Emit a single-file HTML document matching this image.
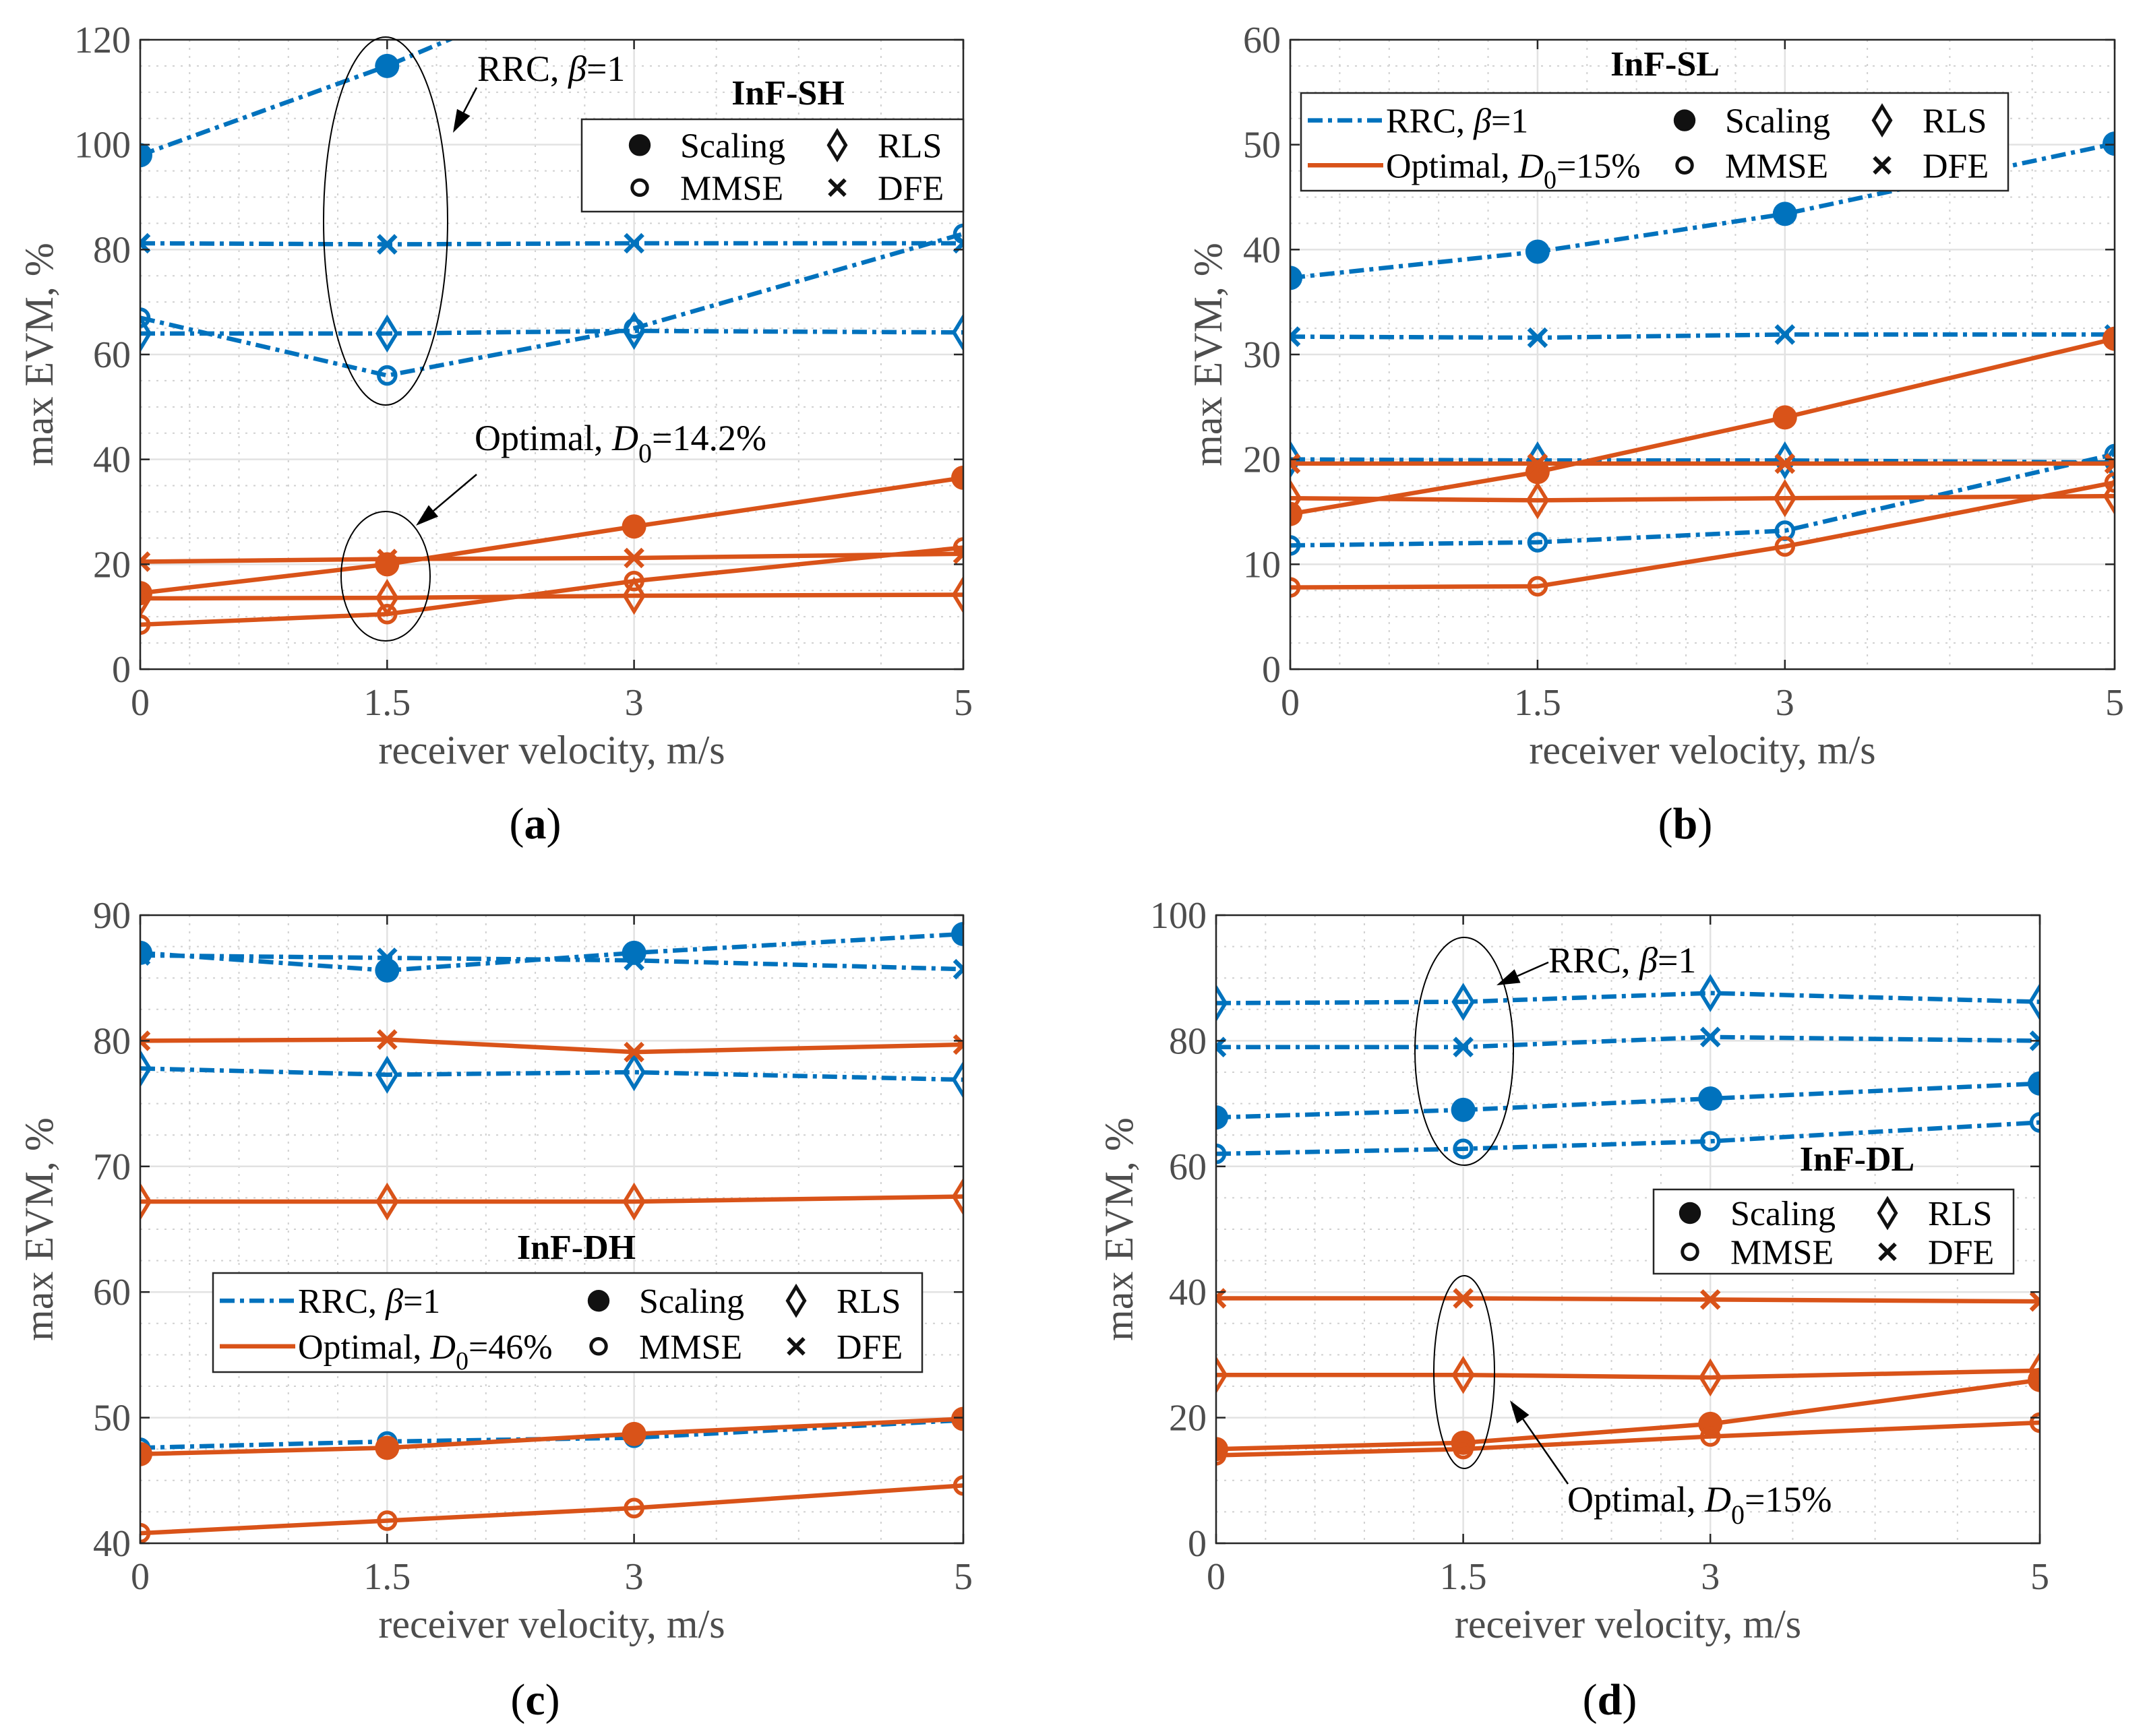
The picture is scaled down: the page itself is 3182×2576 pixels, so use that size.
<!DOCTYPE html>
<html><head><meta charset="utf-8"><style>
html,body{margin:0;padding:0;background:#fff;}
svg{display:block;}
svg text{font-family:"Liberation Serif",serif;}
</style></head><body>
<svg id="fig" width="3182" height="2576" viewBox="0 0 3182 2576" xmlns="http://www.w3.org/2000/svg"></svg>
<script>
// ---- shared x data ----
const velocities = [0, 1.5, 3, 5];
const xTicks = [0, 1.5, 3, 5];
const xTickLabels = ["0", "1.5", "3", "5"];
const xMinor = [0.3,0.6,0.9,1.2,1.8,2.1,2.4,2.7,3.5,4,4.5];

// ---- panel (a) InF-SH ----
const aTicks = [0,20,40,60,80,100,120];
const aRrcScaling = [98, 115, 135, 155];
const aRrcMmse = [67, 56, 65, 83];
const aRrcRls = [64, 64, 64.5, 64.2];
const aRrcDfe = [81.2, 81, 81.2, 81.2];
const aOptScaling = [14.5, 20, 27.2, 36.5];
const aOptMmse = [8.5, 10.5, 16.8, 23.2];
const aOptRls = [13.5, 13.6, 14, 14.2];
const aOptDfe = [20.5, 21, 21.2, 22];

// ---- panel (b) InF-SL ----
const bTicks = [0,10,20,30,40,50,60];
const bRrcScaling = [37.3, 39.8, 43.4, 50.1];
const bRrcMmse = [11.8, 12.1, 13.2, 20.5];
const bRrcRls = [20, 19.9, 19.9, 19.7];
const bRrcDfe = [31.7, 31.6, 31.9, 31.9];
const bOptScaling = [14.8, 18.8, 24, 31.5];
const bOptMmse = [7.8, 7.9, 11.7, 17.8];
const bOptRls = [16.3, 16.1, 16.3, 16.5];
const bOptDfe = [19.6, 19.6, 19.6, 19.6];

// ---- panel (c) InF-DH ----
const cTicks = [40,50,60,70,80,90];
const cRrcScaling = [87, 85.6, 87, 88.5];
const cRrcMmse = [47.6, 48.1, 48.4, 49.8];
const cRrcRls = [77.8, 77.3, 77.5, 76.9];
const cRrcDfe = [86.8, 86.6, 86.4, 85.7];
const cOptScaling = [47.1, 47.6, 48.7, 49.9];
const cOptMmse = [40.8, 41.8, 42.8, 44.6];
const cOptRls = [67.2, 67.2, 67.2, 67.6];
const cOptDfe = [80, 80.1, 79.1, 79.7];

// ---- panel (d) InF-DL ----
const dTicks = [0,20,40,60,80,100];
const dRrcScaling = [67.8, 69, 70.8, 73.2];
const dRrcMmse = [62, 62.8, 64, 67];
const dRrcRls = [86, 86.2, 87.6, 86.2];
const dRrcDfe = [79, 79, 80.6, 80];
const dOptScaling = [15, 16, 19, 26];
const dOptMmse = [14, 15, 17, 19.2];
const dOptRls = [26.8, 26.8, 26.4, 27.5];
const dOptDfe = [39, 39, 38.8, 38.5];

const NS = "http://www.w3.org/2000/svg";
const svg = document.getElementById("fig");
const BLUE = "#0072BD", RED = "#D95319";
const SERIF = "Liberation Serif, serif";

function mk(tag, attrs, parent) {
  const el = document.createElementNS(NS, tag);
  for (const k in attrs) el.setAttribute(k, attrs[k]);
  if (tag === "text" && !attrs["font-family"]) el.setAttribute("font-family", SERIF);
  (parent || svg).appendChild(el);
  return el;
}

function marker(g, type, cx, cy, color, scale) {
  const s = scale || 1;
  let el;
  if (type === "scaling") {
    el = mk("circle", {cx: cx, cy: cy, r: 18*s, fill: color}, g);
  } else if (type === "mmse") {
    el = mk("circle", {cx: cx, cy: cy, r: 12.5*s, fill: "none", stroke: color, "stroke-width": 5.5*s}, g);
  } else if (type === "rls") {
    const w = 14*s, h = 23*s;
    el = mk("polygon", {points: `${cx},${cy-h} ${cx+w},${cy} ${cx},${cy+h} ${cx-w},${cy}`, fill: "none", stroke: color, "stroke-width": 5.5*s}, g);
  } else {
    const d = 13*s;
    el = mk("path", {d: `M${cx-d},${cy-d}L${cx+d},${cy+d}M${cx-d},${cy+d}L${cx+d},${cy-d}`, stroke: color, "stroke-width": 6.5*s, fill: "none"}, g);
  }
  return el;
}

function panel(id, box, yMin, yMax, yTicks, series, ylabX) {
  const g = mk("g", {});
  
  
  const L = box[0], R = box[1], T = box[2], B = box[3];
  const sx = v => L + (v - 0) / 5 * (R - L);
  const sy = v => B - (v - yMin) / (yMax - yMin) * (B - T);
  const step = yTicks[1] - yTicks[0];
  for (let v = yMin; v < yMax; v += step/4) {
    if (Math.abs((v - yMin) % step) < 1e-6) continue;
    const ln = mk("line", {x1: L, x2: R, y1: sy(v), y2: sy(v), stroke: "#d0d0d0", "stroke-width": 2, "stroke-dasharray": "3,9"}, g);
    
    
  }
  xMinor.forEach(v => {
    const ln = mk("line", {x1: sx(v), x2: sx(v), y1: T, y2: B, stroke: "#d0d0d0", "stroke-width": 2, "stroke-dasharray": "3,9"}, g);
    
    
  });
  yTicks.forEach(v => {
    const ln = mk("line", {x1: L, x2: R, y1: sy(v), y2: sy(v), stroke: "#e2e2e2", "stroke-width": 2.5}, g);
    
    
    const t = mk("text", {x: L - 14, y: sy(v) + 19, "text-anchor": "end", "font-size": 56, fill: "#4d4d4d"}, g);
    t.textContent = String(v);
    
    
  });
  xTicks.forEach((v, i) => {
    const ln = mk("line", {x1: sx(v), x2: sx(v), y1: T, y2: B, stroke: "#e2e2e2", "stroke-width": 2.5}, g);
    
    
    const t = mk("text", {x: sx(v), y: B + 68, "text-anchor": "middle", "font-size": 56, fill: "#4d4d4d"}, g);
    t.textContent = xTickLabels[i];
    
    
  });
  const cp = mk("clipPath", {id: "clip" + id}, g);
  mk("rect", {x: L, y: T, width: R - L, height: B - T}, cp);
  const dg = mk("g", {"clip-path": `url(#clip${id})`}, g);
  
  
  series.forEach(s => {
    const pts = s.vals.map((v, i) => sx(velocities[i]) + "," + sy(v)).join(" ");
    const pl = mk("polyline", {points: pts, fill: "none", stroke: s.color, "stroke-width": 6.5,
      "stroke-dasharray": s.color === BLUE ? "22,8,6,8" : "none"}, dg);
    
    
    s.vals.forEach((v, i) => {
      const m = marker(dg, s.type, sx(velocities[i]), sy(v), s.color, 1);
      
      
    });
  });
  const ax = mk("rect", {x: L, y: T, width: R - L, height: B - T, fill: "none", stroke: "#262626", "stroke-width": 2.5}, g);
  
  
  yTicks.forEach(v => {
    mk("line", {x1: L, x2: L + 14, y1: sy(v), y2: sy(v), stroke: "#262626", "stroke-width": 2.5}, g);
    mk("line", {x1: R, x2: R - 14, y1: sy(v), y2: sy(v), stroke: "#262626", "stroke-width": 2.5}, g);
  });
  xTicks.forEach(v => {
    mk("line", {x1: sx(v), x2: sx(v), y1: B, y2: B - 14, stroke: "#262626", "stroke-width": 2.5}, g);
    mk("line", {x1: sx(v), x2: sx(v), y1: T, y2: T + 14, stroke: "#262626", "stroke-width": 2.5}, g);
  });
  const xl = mk("text", {x: (L + R) / 2, y: B + 140, "text-anchor": "middle", "font-size": 60, fill: "#4d4d4d"}, g);
  xl.textContent = "receiver velocity, m/s";
  
  
  const yc = (T + B) / 2;
  const yl = mk("text", {x: ylabX, y: yc, "text-anchor": "middle", "font-size": 60, fill: "#4d4d4d", transform: `rotate(-90 ${ylabX} ${yc})`}, g);
  yl.textContent = "max EVM, %";
  
  
  return g;
}

function mkSeries(p, rs, rm, rr, rd, os, om, orr, od) {
  return [
    {vals: rs, type: "scaling", color: BLUE, name: p + "-rrc-scaling"},
    {vals: rm, type: "mmse", color: BLUE, name: p + "-rrc-mmse"},
    {vals: rr, type: "rls", color: BLUE, name: p + "-rrc-rls"},
    {vals: rd, type: "dfe", color: BLUE, name: p + "-rrc-dfe"},
    {vals: os, type: "scaling", color: RED, name: p + "-optimal-scaling"},
    {vals: om, type: "mmse", color: RED, name: p + "-optimal-mmse"},
    {vals: orr, type: "rls", color: RED, name: p + "-optimal-rls"},
    {vals: od, type: "dfe", color: RED, name: p + "-optimal-dfe"}
  ];
}

panel("a", [208, 1429, 59, 993], 0, 120, aTicks, mkSeries("a", aRrcScaling, aRrcMmse, aRrcRls, aRrcDfe, aOptScaling, aOptMmse, aOptRls, aOptDfe), 78);
panel("b", [1914, 3137, 59, 993], 0, 60, bTicks, mkSeries("b", bRrcScaling, bRrcMmse, bRrcRls, bRrcDfe, bOptScaling, bOptMmse, bOptRls, bOptDfe), 1812);
panel("c", [208, 1429, 1358, 2290], 40, 90, cTicks, mkSeries("c", cRrcScaling, cRrcMmse, cRrcRls, cRrcDfe, cOptScaling, cOptMmse, cOptRls, cOptDfe), 78);
panel("d", [1804, 3026, 1358, 2290], 0, 100, dTicks, mkSeries("d", dRrcScaling, dRrcMmse, dRrcRls, dRrcDfe, dOptScaling, dOptMmse, dOptRls, dOptDfe), 1680);

// ---- legends ----
function legend(name, x, y, w, h, withLines, title, tx, ty, d0) {
  const g = mk("g", {});
  
  
  const r = mk("rect", {x: x, y: y, width: w, height: h, fill: "#fff", stroke: "#262626", "stroke-width": 2.5}, g);
  
  
  const tt = mk("text", {x: tx, y: ty, "text-anchor": "middle", "font-size": 52, "font-weight": "bold", fill: "#000"}, svg);
  tt.textContent = title;
  
  
  const r1 = y + h * 0.28, r2 = y + h * 0.74;
  if (withLines) {
    mk("line", {x1: x + 10, x2: x + 122, y1: r1, y2: r1, stroke: BLUE, "stroke-width": 6.5, "stroke-dasharray": "22,8,6,8"}, g);
    mk("line", {x1: x + 10, x2: x + 122, y1: r2, y2: r2, stroke: RED, "stroke-width": 6.5}, g);
    const t1 = mk("text", {x: x + 126, y: r1 + 18, "font-size": 52}, g);
    t1.innerHTML = 'RRC, <tspan font-style="italic">β</tspan>=1';
    
    
    const t2 = mk("text", {x: x + 126, y: r2 + 18, "font-size": 52}, g);
    t2.innerHTML = 'Optimal, <tspan font-style="italic">D</tspan><tspan dy="16" font-size="38">0</tspan><tspan dy="-16">=' + d0 + '</tspan>';
    
    
  }
  const items = [["scaling","Scaling",0,r1],["rls","RLS",1,r1],["mmse","MMSE",0,r2],["dfe","DFE",1,r2]];
  items.forEach(it => {
    const cx = x + w - 480 + it[2] * 293;
    marker(g, it[0], cx, it[3], "#111", 0.9);
    const t = mk("text", {x: cx + 60, y: it[3] + 18, "font-size": 52}, g);
    t.textContent = it[1];
    
    
  });
}
legend("legend-a", 863, 177, 566, 137, false, "InF-SH", 1169, 155);
legend("legend-b", 1930, 138, 1049, 145, true, "InF-SL", 2470, 112, "15%");
legend("legend-c", 316, 1889, 1052, 147, true, "InF-DH", 855, 1868, "46%");
legend("legend-d", 2453, 1765, 534, 125, false, "InF-DL", 2755, 1737);

// ---- annotations ----
function ell(cx, cy, rx, ry) {
  const e = mk("ellipse", {cx: cx, cy: cy, rx: rx, ry: ry, fill: "none", stroke: "#000", "stroke-width": 2});
  
  
}
function arrow(x1, y1, x2, y2) {
  const a = Math.atan2(y2 - y1, x2 - x1), L = 34, W = 11;
  const bx = x2 - L * Math.cos(a), by = y2 - L * Math.sin(a);
  const g = mk("g", {});
  
  
  mk("line", {x1: x1, y1: y1, x2: bx, y2: by, stroke: "#000", "stroke-width": 2.5}, g);
  mk("polygon", {points: `${x2},${y2} ${bx + W*Math.sin(a)},${by - W*Math.cos(a)} ${bx - W*Math.sin(a)},${by + W*Math.cos(a)}`, fill: "#000"}, g);
}
function note(x, y, html) {
  const t = mk("text", {x: x, y: y, "font-size": 54});
  t.innerHTML = html;
  
  
}
ell(572, 328, 92, 273);
arrow(707, 130, 672, 197);
note(708, 120, 'RRC, <tspan font-style="italic">β</tspan>=1');
ell(572, 855, 66, 96);
arrow(707, 704, 617, 780);
note(704, 668, 'Optimal, <tspan font-style="italic">D</tspan><tspan dy="18" font-size="40">0</tspan><tspan dy="-18">=14.2%</tspan>');
ell(2172, 1560, 73, 169);
arrow(2297, 1428, 2220, 1462);
note(2297, 1443, 'RRC, <tspan font-style="italic">β</tspan>=1');
ell(2172, 2036, 45, 143);
arrow(2326, 2202, 2240, 2078);
note(2325, 2243, 'Optimal, <tspan font-style="italic">D</tspan><tspan dy="18" font-size="40">0</tspan><tspan dy="-18">=15%</tspan>');

// ---- captions ----
[["(a)",794,1244],["(b)",2500,1244],["(c)",794,2544],["(d)",2388,2544]].forEach(c => {
  const t = mk("text", {x: c[1], y: c[2], "text-anchor": "middle", "font-size": 66});
  t.innerHTML = '(<tspan font-weight="bold">' + c[0][1] + '</tspan>)';
  
  
});
</script>
</body></html>
